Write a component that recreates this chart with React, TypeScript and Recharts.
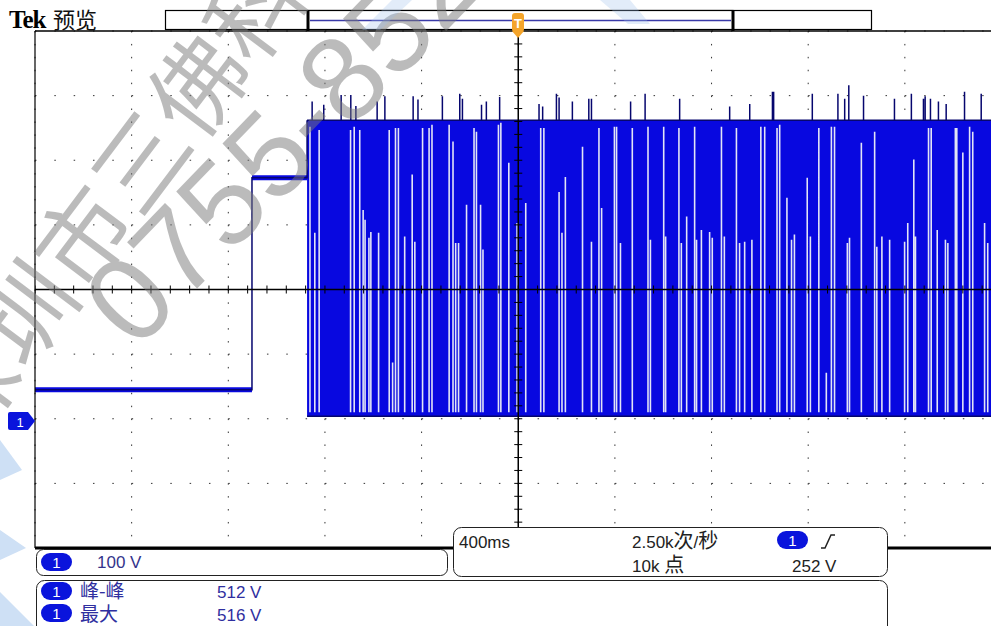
import React from 'react'
import {
  Area,
  CartesianGrid,
  ComposedChart,
  Line,
  ReferenceLine,
  Scatter,
  XAxis,
  YAxis,
} from 'recharts'

// scope settings: 400 ms/div horizontally, 100 V/div vertically, CH1 ground = 0 V
const timeDomain = [-2000, 2000]
const voltDomain = [-200, 600]
const majorTimes = [-2000, -1600, -1200, -800, -400, 0, 400, 800, 1200, 1600, 2000]
const majorVolts = [-200, -100, 0, 100, 200, 300, 400, 500, 600]
const minorTimes = Array.from({ length: 51 }, (_, i) => -2000 + i * 80)
const minorVolts = Array.from({ length: 41 }, (_, i) => -200 + i * 20)

// trace before the switching burst (ms, V)
const stepTimes = [-2000, -1102, -1102, -874, -874]
const stepVolts = [45, 45, 373, 373, 462]

// switching burst envelope
const burstStart = -874
const burstEnd = 2000
const burstLow = 4
const burstHigh = 462
const gapBottom = 10

// columns where the burst leaves a light gap, and the level where the gap starts
const gapTimes = [
  -862, -842, -824, -694, -679, -656, -642, -634, -618, -610, -578, -534, -520, -508, -496, -470,
  -439, -428, -396, -369, -357, -286, -270, -259, -247, -214, -183, -173, -156, -146, -82, -72,
  -39, -5, 31, 93, 106, 169, 181, 195, 266, 303, 334, 345, 398, 407, 423, 472, 537, 547, 602,
  610, 665, 675, 697, 730, 738, 758, 792, 803, 841, 853, 903, 916, 937, 967, 1004, 1020, 1071,
  1082, 1112, 1131, 1143, 1196, 1209, 1244, 1275, 1296, 1309, 1362, 1371, 1420, 1475, 1484, 1505,
  1537, 1599, 1612, 1637, 1644, 1698, 1709, 1734, 1768, 1778, 1809, 1815, 1840, 1868, 1881, 1930,
  1943,
]
const gapTops = [
  452, 288, 447, 447, 452, 447, 323, 308, 280, 289, 288, 447, 87, 450, 450, 282,
  378, 274, 450, 450, 455, 455, 429, 272, 272, 331, 450, 444, 331, 262, 455, 458,
  396, 303, 334, 450, 450, 351, 288, 374, 421, 274, 450, 326, 452, 452, 272, 450, 452, 277, 452,
  282, 450, 272, 313, 452, 277, 292, 289, 280, 452, 282, 450, 272, 274, 277, 452, 452, 450,
  455, 342, 277, 285, 373, 282, 450, 71, 452, 452, 272, 280, 427, 444, 266, 282,
  277, 274, 303, 401, 282, 450, 450, 292, 277, 272, 450, 450, 412, 452, 444, 303,
  272,
]

// overshoot spikes above the burst
const spikeTimes = [
  -853, -805, -733, -693, -672, -584, -552, -435, -415, -314, -242, -231, -152, -132, -77, 86,
  101, 158, 169, 224, 292, 303, 465, 525, 668, 875, 958, 1052, 1057, 1217, 1323, 1351, 1368,
  1429, 1557, 1627, 1677, 1684, 1706, 1739, 1771, 1847, 1916,
]
const spikePeaks = [
  491, 486, 501, 501, 484, 491, 499, 499, 494, 499, 503, 495, 486, 491, 498, 487,
  483, 503, 497, 491, 495, 495, 491, 503, 495, 483, 487, 506, 506, 503, 503, 495, 516,
  500, 495, 503, 495, 499, 495, 491, 487, 506, 503,
]

const BLUE = '#0808e0'
const NAVY = '#06066e'
const SANS = '"Liberation Sans", "Noto Sans CJK SC", sans-serif'
const CJK = '"Noto Sans CJK SC", sans-serif'

const levelData = [
  { t: stepTimes[0], v: stepVolts[0] },
  { t: stepTimes[1], v: stepVolts[1] },
  { t: stepTimes[1], v: null },
  { t: stepTimes[2], v: stepVolts[2] },
  { t: stepTimes[3], v: stepVolts[3] },
]
const stepData = stepTimes.map((t, i) => ({ t, v: stepVolts[i] }))
const burstData = [
  { t: burstStart, r: [burstLow, burstHigh] },
  { t: burstEnd, r: [burstLow, burstHigh] },
]
const gapData = gapTimes.flatMap((t, i) => [
  { t, v: gapBottom },
  { t, v: gapTops[i] },
  { t, v: null },
])
const spikeData = spikeTimes.flatMap((t, i) => [
  { t, v: burstHigh },
  { t, v: spikePeaks[i] },
  { t, v: null },
])
const crossTicks = [
  ...minorTimes.map((t) => ({ t, v: 200, d: 'h' })),
  ...minorVolts.map((v) => ({ t: 0, v, d: 'v' })),
]

function CrossTick(props: any) {
  const { cx, cy, payload } = props
  if (cx == null || cy == null) return null
  if (payload.d === 'h') {
    return <line x1={cx} x2={cx} y1={cy - 4} y2={cy + 4} stroke="#000" strokeWidth={1} />
  }
  return <line x1={cx - 4} x2={cx + 4} y1={cy} y2={cy} stroke="#000" strokeWidth={1} />
}

function Pill({ x, y }: { x: number; y: number }) {
  return (
    <g>
      <rect x={x} y={y} width={31} height={18} rx={9} fill="#0a14dc" />
      <text x={x + 15.5} y={y + 14.5} textAnchor="middle" fontSize={15} fontFamily={SANS} fill="#fff">
        1
      </text>
    </g>
  )
}

function Overlay() {
  return (
    <svg
      width={991}
      height={626}
      style={{ position: 'absolute', left: 0, top: 0, pointerEvents: 'none' }}
    >
      {/* header */}
      <rect x={0} y={0} width={991} height={30} fill="#fff" />
      <text x={9} y={28} fontSize={25} fontWeight="bold" fontFamily='"Liberation Serif", serif' letterSpacing={-1} fill="#000">
        Tek
      </text>
      <text x={53} y={28} fontSize={22} fontFamily={CJK} fill="#111">
        预览
      </text>
      <rect x={165.5} y={10.5} width={706} height={19} fill="#fff" stroke="#000" strokeWidth={1.2} />
      <rect x={308} y={10.5} width={425} height={19} fill="#fff" stroke="#000" strokeWidth={1.2} />
      <line x1={308} x2={308} y1={10} y2={31} stroke="#000" strokeWidth={3} />
      <line x1={733} x2={733} y1={10} y2={31} stroke="#000" strokeWidth={3} />
      <line x1={310} x2={731} y1={20.5} y2={20.5} stroke="#3a3aa8" strokeWidth={1.5} />
      <rect x={512} y={13} width={12} height={19} rx={3} fill="#f4a42a" />
      <polygon points="512,31 524,31 518,38" fill="#f4a42a" />
      <text x={518} y={28} textAnchor="middle" fontSize={13} fontWeight="bold" fontFamily={SANS} fill="#fff">
        T
      </text>

      {/* channel 1 ground marker */}
      <path d="M10,412 L28,412 L35,421 L28,430 L10,430 Q8,430 8,428 L8,414 Q8,412 10,412 Z" fill="#0a14dc" />
      <text x={20} y={426.5} textAnchor="middle" fontSize={13} fontFamily={SANS} fill="#fff">
        1
      </text>

      {/* readout panels */}
      <rect x={36.5} y={549.5} width={411} height={26} rx={7} fill="#fff" stroke="#222" strokeWidth={1} />
      <Pill x={41} y={553} />
      <text x={97} y={568} fontSize={17} fontFamily={SANS} fill="#34348c">
        100 V
      </text>

      <rect x={453.5} y={527.5} width={434} height={49} rx={8} fill="#fff" stroke="#222" strokeWidth={1} />
      <text x={459} y={548} fontSize={17} fontFamily={SANS} fill="#222">
        400ms
      </text>
      <text x={632} y={548} fontSize={17} fontFamily={SANS} fill="#222">
        2.50k<tspan fontFamily={CJK} fontSize={20}>次</tspan>/<tspan fontFamily={CJK} fontSize={20}>秒</tspan>
      </text>
      <text x={632} y={572} fontSize={17} fontFamily={SANS} fill="#222">
        10k <tspan fontFamily={CJK} fontSize={20}>点</tspan>
      </text>
      <Pill x={777} y={531} />
      <path d="M821,548 L825,548 L831,535 L835,535" fill="none" stroke="#222" strokeWidth={1.5} />
      <text x={792} y={572} fontSize={17} fontFamily={SANS} fill="#222">
        252 V
      </text>

      <rect x={36.5} y={580.5} width={851} height={60} rx={8} fill="#fff" stroke="#222" strokeWidth={1} />
      <Pill x={41} y={582} />
      <text x={80} y={598} fontSize={19} fontFamily={CJK} fill="#2f2fa0">
        峰-峰
      </text>
      <text x={217} y={598} fontSize={17} fontFamily={SANS} fill="#2f2fa0">
        512 V
      </text>
      <Pill x={41} y={604} />
      <text x={80} y={621} fontSize={19} fontFamily={CJK} fill="#2f2fa0">
        最大
      </text>
      <text x={217} y={621} fontSize={17} fontFamily={SANS} fill="#2f2fa0">
        516 V
      </text>

      {/* watermark */}
      <g opacity={0.5}>
        <text transform="translate(-31,448) rotate(-53)" fontSize={95} fontFamily={CJK} fill="#7a7a7a">
          深圳市三佛科技
        </text>
        <text transform="translate(136,352) rotate(-46)" fontSize={120} fontFamily={SANS} fill="#7a7a7a">
          0755-8527
        </text>
      </g>
      <g fill="#9cc0ea" opacity={0.5}>
        <polygon points="0,440 22,470 0,480" />
        <polygon points="0,530 26,548 0,560" />
        <polygon points="0,592 34,626 0,626" />
        <polygon points="392,0 412,0 380,30 362,30" opacity={0.6} />
        <polygon points="600,0 630,0 650,24 628,24" opacity={0.6} />
      </g>
    </svg>
  )
}

export default function App() {
  return (
    <div
      style={{
        position: 'absolute',
        left: 0,
        top: 0,
        width: 991,
        height: 626,
        overflow: 'hidden',
        background: '#fff',
      }}
    >
      <ComposedChart width={1012} height={626} margin={{ top: 31, right: 10.5, bottom: 78, left: 35 }}>
        <XAxis xAxisId="m" dataKey="t" type="number" domain={timeDomain} ticks={majorTimes} hide allowDataOverflow />
        <YAxis yAxisId="m" dataKey="v" type="number" domain={voltDomain} ticks={majorVolts} hide allowDataOverflow />
        <XAxis
          xAxisId="top"
          orientation="top"
          mirror
          type="number"
          domain={timeDomain}
          ticks={minorTimes}
          tick={false}
          tickSize={3}
          axisLine={{ stroke: '#000', strokeWidth: 1.5 }}
          tickLine={{ stroke: '#000' }}
          allowDataOverflow
        />
        <XAxis
          xAxisId="bottom"
          orientation="bottom"
          mirror
          type="number"
          domain={timeDomain}
          ticks={minorTimes}
          tick={false}
          tickSize={3}
          axisLine={{ stroke: '#000', strokeWidth: 3 }}
          tickLine={{ stroke: '#000' }}
          allowDataOverflow
        />
        <YAxis
          yAxisId="left"
          orientation="left"
          mirror
          type="number"
          domain={voltDomain}
          ticks={minorVolts}
          tick={false}
          tickSize={3}
          axisLine={{ stroke: '#000', strokeWidth: 1.2 }}
          tickLine={{ stroke: '#000' }}
          allowDataOverflow
        />
        <CartesianGrid xAxisId="m" yAxisId="m" horizontal={false} stroke="#333" strokeDasharray="1.5 11.42" />
        <CartesianGrid xAxisId="m" yAxisId="m" vertical={false} stroke="#333" strokeDasharray="1.5 17.83" />

        <Area
          xAxisId="m"
          yAxisId="m"
          data={burstData}
          dataKey="r"
          type="linear"
          fill={BLUE}
          fillOpacity={1}
          stroke={NAVY}
          strokeWidth={1.5}
          isAnimationActive={false}
        />
        <Line
          xAxisId="m"
          yAxisId="m"
          data={levelData}
          dataKey="v"
          type="linear"
          stroke={BLUE}
          strokeWidth={5}
          dot={false}
          isAnimationActive={false}
        />
        <Line
          xAxisId="m"
          yAxisId="m"
          data={stepData}
          dataKey="v"
          type="linear"
          stroke={NAVY}
          strokeWidth={1.5}
          dot={false}
          isAnimationActive={false}
        />
        <Line
          xAxisId="m"
          yAxisId="m"
          data={gapData}
          dataKey="v"
          type="linear"
          stroke="#e2e4f6"
          strokeWidth={1.6}
          dot={false}
          isAnimationActive={false}
        />
        <Line
          xAxisId="m"
          yAxisId="m"
          data={spikeData}
          dataKey="v"
          type="linear"
          stroke={NAVY}
          strokeWidth={1.5}
          dot={false}
          isAnimationActive={false}
        />
        <ReferenceLine xAxisId="m" yAxisId="m" x={0} stroke="#000" strokeWidth={1.5} />
        <ReferenceLine xAxisId="m" yAxisId="m" y={200} stroke="#000" strokeWidth={1.5} />
        <Scatter
          xAxisId="m"
          yAxisId="m"
          data={crossTicks}
          shape={CrossTick}
          isAnimationActive={false}
        />
      </ComposedChart>
      <Overlay />
    </div>
  )
}
